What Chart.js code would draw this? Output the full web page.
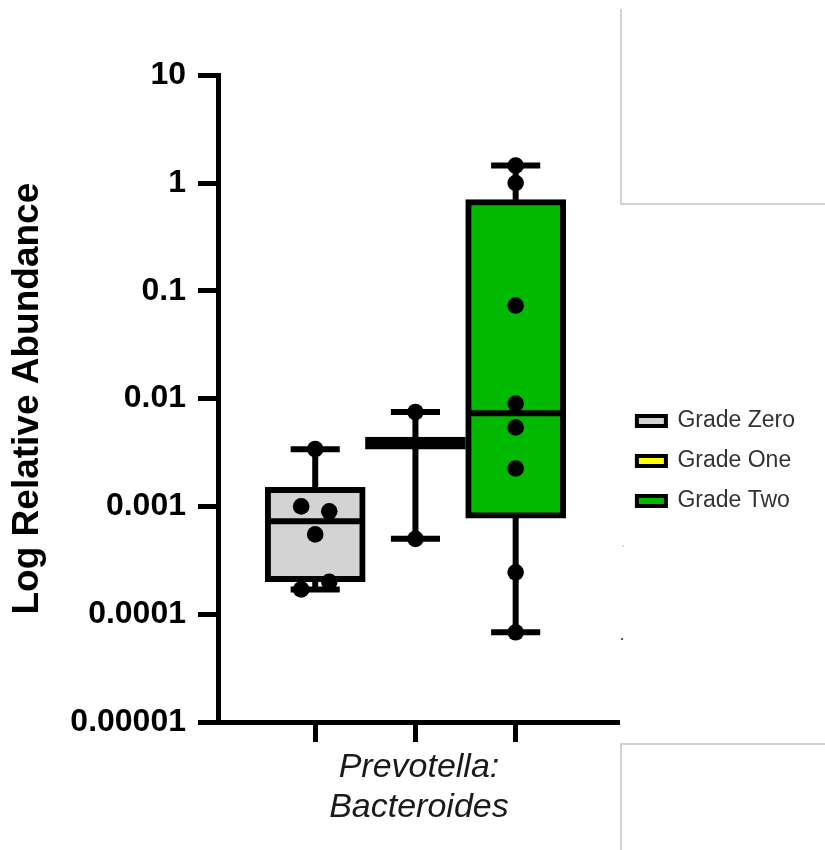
<!DOCTYPE html>
<html>
<head>
<meta charset="utf-8">
<script src="https://cdn.jsdelivr.net/npm/chart.js@4"></script>
<style>
    html, body { margin: 0; padding: 0; background: #fff; overflow: hidden; }
    body { width: 825px; height: 850px; position: relative; }
    #wrap { position: absolute; left: 0; top: 44px; width: 825px; height: 834px; }
    .frame { position: absolute; border-color: #d2d2d2; border-style: solid; border-width: 0; }
    .speck { position: absolute; width: 2px; height: 2px; }
</style>
</head>
<body>
<div class="frame" style="left:620px; top:9px; width:205px; height:194px; border-left-width:2px; border-bottom-width:2px;"></div>
<div class="frame" style="left:620px; top:743px; width:205px; height:107px; border-left-width:2px; border-top-width:2px;"></div>
<div class="speck" style="left:622px; top:545px; background:#ddd;"></div>
<div class="speck" style="left:621px; top:638px; background:#555;"></div>
<div id="wrap"><canvas id="chart"></canvas></div>
<script>
// группы (box plot)
const groupNames = ["Grade Zero", "Grade One", "Grade Two"]
const groupX = [1, 2, 3]
const groupColors = ["#d3d3d3", "#ffff00", "#00b900"]

// квартили, медианы и усы
const q1 = [0.0002, 0.0034, 0.00078]
const median = [0.00073, 0.0039, 0.0073]
const q3 = [0.0015, 0.0044, 0.7]
const whiskerMin = [0.00017, 0.0005, 0.000068]
const whiskerMax = [0.0034, 0.0075, 1.45]

// отдельные точки (x - позиция на оси с разбросом)
const zeroPoints = [0.0034, 0.001, 0.0009, 0.00055, 0.0002, 0.00017]
const zeroPointX = [1, 0.86, 1.14, 1, 1.14, 0.86]
const onePoints = [0.0075, 0.0005]
const onePointX = [2, 2]
const twoPoints = [1.45, 1.0, 0.073, 0.009, 0.0054, 0.00225, 0.000245, 0.000068]
const twoPointX = [3, 3, 3, 3, 3, 3, 3, 3]

// ось Y
const yTicks = [0.00001, 0.0001, 0.001, 0.01, 0.1, 1, 10]
const yTickLabels = ["0.00001", "0.0001", "0.001", "0.01", "0.1", "1", "10"]
const yTitle = "Log Relative Abundance"
const xTitle = ["Prevotella:", "Bacteroides"]

const FONT = "'Liberation Sans', Arial, sans-serif"
Chart.defaults.font.family = FONT

const LINE = 6
const BOX_W = 100
const CAP_W = 0.49

/**
 * усы и медианы для box plot'а
 */
const boxPlotLines = {
    id: "boxPlotLines",
    beforeDatasetsDraw(chart) {
        const {ctx, scales: {x, y}} = chart
        ctx.save()
        ctx.strokeStyle = "#000"
        ctx.lineWidth = LINE
        ctx.lineCap = "butt"
        for (let i = 0; i < groupX.length; i++) {
            const cx = x.getPixelForValue(groupX[i])
            const l = x.getPixelForValue(groupX[i] - CAP_W / 2)
            const r = x.getPixelForValue(groupX[i] + CAP_W / 2)
            const top = y.getPixelForValue(whiskerMax[i])
            const bot = y.getPixelForValue(whiskerMin[i])
            ctx.beginPath()
            ctx.moveTo(cx, top)
            ctx.lineTo(cx, bot)
            ctx.moveTo(l, top)
            ctx.lineTo(r, top)
            ctx.moveTo(l, bot)
            ctx.lineTo(r, bot)
            ctx.stroke()
        }
        ctx.restore()
    },
    afterDatasetDraw(chart, args) {
        if (args.index !== 0) return
        const {ctx, scales: {x, y}} = chart
        ctx.save()
        ctx.strokeStyle = "#000"
        ctx.lineWidth = LINE
        for (let i = 0; i < groupX.length; i++) {
            const cx = x.getPixelForValue(groupX[i])
            const my = y.getPixelForValue(median[i])
            ctx.beginPath()
            ctx.moveTo(cx - BOX_W / 2 + LINE / 2, my)
            ctx.lineTo(cx + BOX_W / 2 - LINE / 2, my)
            ctx.stroke()
        }
        ctx.restore()
    }
}

const toPoints = (ys, xs) => ys.map((v, i) => ({x: xs[i], y: v}))

new Chart(document.getElementById("chart"), {
    type: "bar",
    data: {
        datasets: [
            {
                type: "bar",
                data: groupX.map((gx, i) => ({x: gx, y: [q1[i], q3[i]]})),
                backgroundColor: groupColors,
                borderColor: "#000",
                borderWidth: LINE,
                borderSkipped: false,
                barThickness: BOX_W,
                order: 2
            },
            {
                type: "scatter",
                data: [
                    ...toPoints(zeroPoints, zeroPointX),
                    ...toPoints(onePoints, onePointX),
                    ...toPoints(twoPoints, twoPointX)
                ],
                backgroundColor: "#000",
                borderWidth: 0,
                pointRadius: 8.3,
                order: 1
            }
        ]
    },
    options: {
        responsive: true,
        maintainAspectRatio: false,
        animation: false,
        layout: {padding: {left: 0, right: 20, top: 0, bottom: 0}},
        plugins: {
            tooltip: {enabled: false},
            legend: {
                position: "right",
                align: "center",
                labels: {
                    boxWidth: 29,
                    boxHeight: 10,
                    padding: 17,
                    color: "#333",
                    font: {size: 23, family: FONT},
                    generateLabels: () => groupNames.map((name, i) => ({
                        text: name,
                        fillStyle: groupColors[i],
                        strokeStyle: "#000",
                        lineWidth: 4,
                        hidden: false,
                        fontColor: "#333",
                        datasetIndex: 0
                    }))
                }
            }
        },
        scales: {
            x: {
                type: "linear",
                min: 0.03,
                max: 4.04,
                offset: false,
                afterBuildTicks: s => { s.ticks = groupX.map(v => ({value: v})) },
                ticks: {display: false},
                grid: {
                    offset: false,
                    drawOnChartArea: false,
                    drawTicks: true,
                    tickLength: 20,
                    tickWidth: 5,
                    tickColor: "#000"
                },
                border: {display: true, color: "#000", width: 5},
                title: {
                    display: true,
                    text: xTitle,
                    color: "#1a1a1a",
                    font: {size: 34, style: "italic", family: FONT, lineHeight: 1.176},
                    padding: {top: 6, bottom: 50}
                }
            },
            y: {
                type: "logarithmic",
                min: 0.00001,
                max: 10,
                afterBuildTicks: s => { s.ticks = yTicks.map(v => ({value: v, major: true})) },
                afterFit: s => { s.width = 218 },
                ticks: {
                    autoSkip: false,
                    color: "#000",
                    padding: 12,
                    font: {size: 32, weight: "bold", family: FONT},
                    callback: (v, i) => yTickLabels[i]
                },
                grid: {
                    drawOnChartArea: false,
                    drawTicks: true,
                    tickLength: 20,
                    tickWidth: 5,
                    tickColor: "#000"
                },
                border: {display: true, color: "#000", width: 5},
                title: {
                    display: true,
                    text: yTitle,
                    color: "#000",
                    font: {size: 37, weight: "bold", family: FONT},
                    padding: {top: 6, bottom: 0}
                }
            }
        }
    },
    plugins: [boxPlotLines]
})
</script>
</body>
</html>
